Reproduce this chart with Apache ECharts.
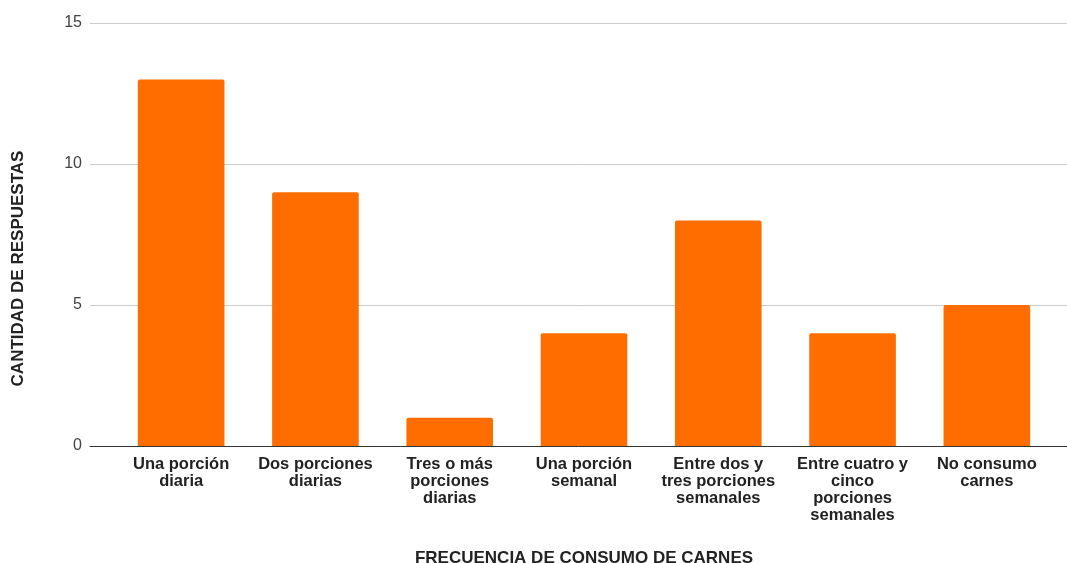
<!DOCTYPE html>
<html>
<head>
<meta charset="utf-8">
<script src="https://cdn.jsdelivr.net/npm/echarts@6/dist/echarts.min.js"></script>
<style>html,body{margin:0;padding:0;background:#fff}#c{width:1067px;height:563px}</style>
</head>
<body>
<div id="c"></div>
<script>
const categories = [
  "Una porción\ndiaria",
  "Dos porciones\ndiarias",
  "Tres o más\nporciones\ndiarias",
  "Una porción\nsemanal",
  "Entre dos y\ntres porciones\nsemanales",
  "Entre cuatro y\ncinco\nporciones\nsemanales",
  "No consumo\ncarnes"
];
const values = [13, 9, 1, 4, 8, 4, 5];
const yTicks = [0, 5, 10, 15];
const xTitle = "FRECUENCIA DE CONSUMO DE CARNES";
const yTitle = "CANTIDAD DE RESPUESTAS";

const FONT = '"Liberation Sans", Arial, sans-serif';
const yMin = yTicks[0], yMax = yTicks[yTicks.length - 1], yStep = yTicks[1] - yTicks[0];

const chart = echarts.init(document.getElementById('c'));
chart.setOption({
  animation: false,
  grid: [
    { left: 90, right: 0, top: 23, bottom: 117, containLabel: false, outerBoundsMode: 'none' },
    { left: 114, right: 13, top: 23, bottom: 117, containLabel: false, outerBoundsMode: 'none' }
  ],
  xAxis: [
    {
      gridIndex: 0, type: 'category', data: categories,
      axisTick: { show: false }, axisLabel: { show: false },
      axisLine: { lineStyle: { color: '#333', width: 1 } }
    },
    {
      gridIndex: 1, type: 'category', data: categories,
      name: xTitle, nameLocation: 'middle', nameGap: 104,
      nameTextStyle: { fontFamily: FONT, fontWeight: 'bold', fontSize: 17, color: '#222' },
      axisTick: { show: false },
      axisLine: { show: false },
      axisLabel: { interval: 0, fontFamily: FONT, fontWeight: 'bold', fontSize: 16.5, color: '#222', lineHeight: 17, margin: 10 }
    }
  ],
  yAxis: [
    {
      gridIndex: 0, type: 'value', min: yMin, max: yMax, interval: yStep,
      name: yTitle, nameLocation: 'middle', nameGap: 63,
      nameTextStyle: { fontFamily: FONT, fontWeight: 'bold', fontSize: 17, color: '#222', padding: [0, 68, 0, 0] },
      axisLine: { show: false }, axisTick: { show: false },
      axisLabel: { fontFamily: FONT, fontSize: 16, color: '#444', margin: 8 },
      splitLine: { lineStyle: { color: '#ccc' } }
    },
    {
      gridIndex: 1, type: 'value', min: yMin, max: yMax, interval: yStep,
      show: false, splitLine: { show: false }
    }
  ],
  series: [{
    type: 'bar',
    xAxisIndex: 1, yAxisIndex: 1,
    data: values,
    barCategoryGap: '35.5%',
    itemStyle: { color: '#ff6d01', borderRadius: [2, 2, 0, 0] }
  }]
});
</script>
</body>
</html>
